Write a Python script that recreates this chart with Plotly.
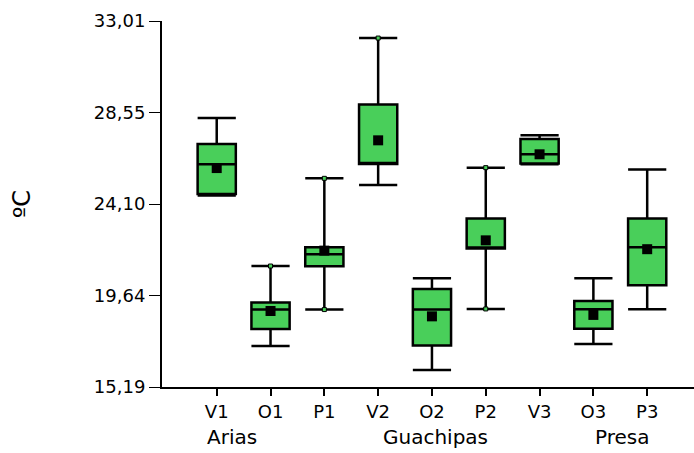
import plotly.graph_objects as go

# Temperature summaries per site/sample (ºC)
categories = ["V1", "O1", "P1", "V2", "O2", "P2", "V3", "O3", "P3"]
lower_whisker = [24.51, 17.19, 18.96, 25.03, 16.02, 18.99, 26.03, 17.28, 18.97]
q1_values = [24.59, 18.01, 21.07, 26.05, 17.21, 21.93, 26.07, 18.03, 20.14]
median_values = [26.03, 18.96, 21.65, 26.07, 18.96, 21.96, 26.52, 18.97, 21.99]
q3_values = [27.02, 19.30, 21.99, 28.95, 19.96, 23.40, 27.27, 19.38, 23.40]
upper_whisker = [28.29, 21.08, 25.35, 32.18, 20.48, 25.87, 27.45, 20.48, 25.78]
mean_values = [25.85, 18.89, 21.83, 27.20, 18.63, 22.33, 26.52, 18.70, 21.90]

# Extreme observations marked at whisker ends
extreme_cats = ["O1", "P1", "P1", "V2", "P2", "P2"]
extreme_values = [21.08, 25.35, 18.96, 32.18, 25.87, 18.99]

y_ticks = [15.19, 19.64, 24.10, 28.55, 33.01]
y_tick_text = ["15,19", "19,64", "24,10", "28,55", "33,01"]

groups = ["Arias", "Guachipas", "Presa"]
group_pos = [0.29, 4.06, 7.53]

GREEN = "#49CF5A"
FONT = "DejaVu Sans, Verdana, sans-serif"

fig = go.Figure()

fig.add_trace(go.Box(
    x=categories,
    lowerfence=lower_whisker,
    q1=q1_values,
    median=median_values,
    q3=q3_values,
    upperfence=upper_whisker,
    fillcolor=GREEN,
    line=dict(color="black", width=2.5),
    whiskerwidth=1,
    width=0.71,
    boxpoints=False,
    showlegend=False,
))

fig.add_trace(go.Scatter(
    x=extreme_cats, y=extreme_values, mode="markers",
    marker=dict(symbol="square", size=4, color=GREEN,
                line=dict(color="black", width=1)),
    showlegend=False, hoverinfo="skip",
))

fig.add_trace(go.Scatter(
    x=categories, y=mean_values, mode="markers",
    marker=dict(symbol="square", size=10, color="black"),
    showlegend=False,
))

for name, pos in zip(groups, group_pos):
    fig.add_annotation(
        x=pos, y=0, xref="x", yref="paper", yshift=-50,
        text=name, showarrow=False, xanchor="center", yanchor="middle",
        font=dict(family=FONT, size=20, color="black"),
    )

fig.update_layout(
    width=694, height=453,
    margin=dict(l=162, r=0, t=21, b=66),
    paper_bgcolor="white", plot_bgcolor="white",
    font=dict(family=FONT, color="black"),
)

fig.update_xaxes(
    type="category",
    categoryorder="array", categoryarray=categories,
    range=[-1.017, 8.87],
    showgrid=False, zeroline=False,
    showline=True, linecolor="black", linewidth=2,
    ticks="outside", ticklen=7, tickwidth=2, tickcolor="black",
    tickfont=dict(family=FONT, size=18),
)

fig.update_yaxes(
    range=[15.19, 33.01],
    tickvals=y_ticks, ticktext=y_tick_text,
    showgrid=False, zeroline=False,
    showline=True, linecolor="black", linewidth=2,
    ticks="outside", ticklen=11, tickwidth=1, tickcolor="black",
    tickfont=dict(family=FONT, size=18),
    title=dict(text="ºC", font=dict(family=FONT, size=24), standoff=56),
)

fig.write_html("out.html")
